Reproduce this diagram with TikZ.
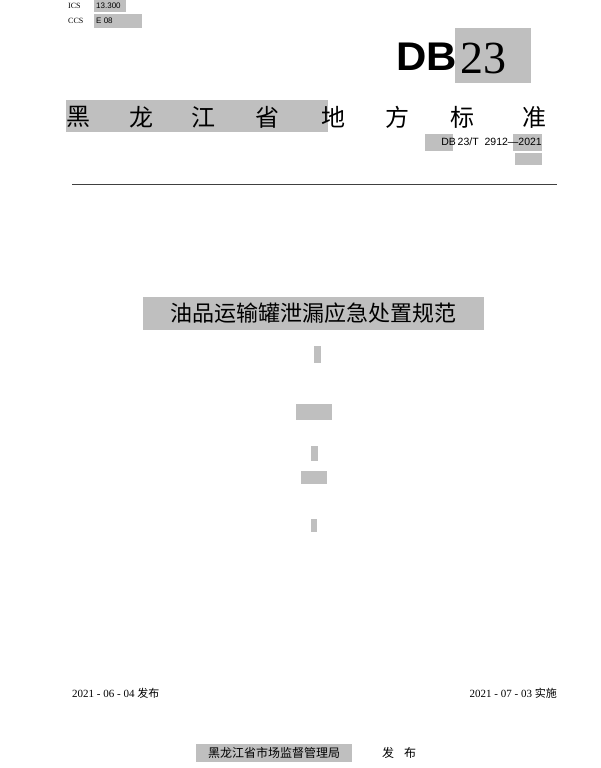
\documentclass[tikz,border=0pt]{standalone}
\usepackage{fontspec}
\newfontfamily\cjk{Noto Sans CJK SC}
\newfontfamily\sans{Liberation Sans}
\setmainfont{Liberation Serif}
\begin{document}
\begin{tikzpicture}[x=1pt,y=-1pt,
  hl/.style={fill=black!25,draw=none},
  tx/.style={inner sep=0pt,anchor=west}]
\useasboundingbox (0,0) rectangle (600,768);
\fill[white] (0,0) rectangle (600,768);
% ICS / CCS
\fill[hl] (94,0) rectangle (126,12);
\fill[hl] (94,14) rectangle (142,28);
\node[tx] (ics) at (68,6) {\fontsize{8}{8}\selectfont ICS};
\node[tx] (icsv) at (96,6) {\sans\fontsize{8}{8}\selectfont 13.300};
\node[tx] (ccs) at (68,21) {\fontsize{8}{8}\selectfont CCS};
\node[tx] (ccsv) at (96,21) {\sans\fontsize{8}{8}\selectfont E 08};
% DB23
\fill[hl] (455,28) rectangle (531,83);
\node[tx] (db) at (396,57) {\sans\bfseries\fontsize{40}{40}\selectfont\scalebox{1.05}[1]{DB}};
\node[tx] (n23) at (460,58) {\fontsize{46}{46}\selectfont 23};
% title line
\fill[hl] (66,100) rectangle (328,132);
\foreach \c/\x [count=\i] in {黑/78,龙/141,江/203,省/267,地/333,方/397,标/462,准/534}
  \node[inner sep=0pt] (h\i) at (\x,117) {\cjk\fontsize{24}{24}\selectfont \c};
% number
\fill[hl] (425,134) rectangle (453,151);
\fill[hl] (513,134) rectangle (542,151);
\fill[hl] (515,153) rectangle (542,165);
\node[inner sep=0pt,anchor=east] (num) at (542,142) {\sans\fontsize{10.5}{10.5}\selectfont DB\,23/T\ \ 2912—2021};
\draw[line width=0.8pt,black!75] (72,184) -- (557,184);
% main title
\fill[hl] (143,297) rectangle (484,330);
\node[inner sep=0pt] (title) at (313,313) {\cjk\fontsize{22}{22}\selectfont 油品运输罐泄漏应急处置规范};
% small boxes
\fill[hl] (314,346) rectangle (321,363);
\fill[hl] (296,404) rectangle (332,420);
\fill[hl] (311,446) rectangle (318,461);
\fill[hl] (301,471) rectangle (327,484);
\fill[hl] (311,519) rectangle (317,532);
% dates
\node[tx] (d1) at (72,693) {\fontsize{11}{11}\selectfont 2021 - 06 - 04 {\cjk 发布}};
\node[inner sep=0pt,anchor=east] (d2) at (557,693) {\fontsize{11}{11}\selectfont 2021 - 07 - 03 {\cjk 实施}};
% issuer
\fill[hl] (196,744) rectangle (352,762);
\node[inner sep=0pt] (iss) at (274,753) {\cjk\fontsize{12}{12}\selectfont 黑龙江省市场监督管理局};
\node[inner sep=0pt] (fb) at (399,753) {\cjk\fontsize{12}{12}\selectfont 发\hspace{10pt}布};
\end{tikzpicture}
\end{document}
